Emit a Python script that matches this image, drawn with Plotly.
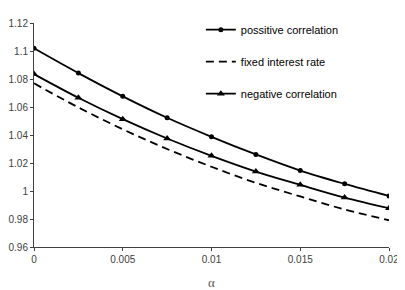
import plotly.graph_objects as go

alpha = [0, 0.0025, 0.005, 0.0075, 0.01, 0.0125, 0.015, 0.0175, 0.02]
positive = [1.1019, 1.0842, 1.0676, 1.0523, 1.0387, 1.0261, 1.0146, 1.0051, 0.9965]
fixed = [1.0769, 1.0597, 1.0441, 1.0300, 1.0173, 1.0058, 0.9961, 0.9868, 0.9791]
negative = [1.0835, 1.0666, 1.0513, 1.0375, 1.0251, 1.0139, 1.0044, 0.9953, 0.9877]

x_ticks = [0, 0.005, 0.01, 0.015, 0.02]
x_tick_labels = ["0", "0.005", "0.01", "0.015", "0.02"]
y_ticks = [0.96, 0.98, 1.0, 1.02, 1.04, 1.06, 1.08, 1.1, 1.12]
y_tick_labels = ["0.96", "0.98", "1", "1.02", "1.04", "1.06", "1.08", "1.1", "1.12"]

fig = go.Figure()
fig.add_trace(go.Scatter(x=alpha, y=positive, name="possitive correlation", mode="lines+markers",
                         line=dict(color="black", width=1.8, shape="spline"),
                         marker=dict(symbol="circle", size=5, color="black"), legendgroup="a"))
fig.add_trace(go.Scatter(x=alpha, y=fixed, name="fixed interest rate", mode="lines",
                         line=dict(color="black", width=1.8, dash="8px,5px", shape="spline"), legendgroup="b"))
fig.add_trace(go.Scatter(x=alpha, y=negative, name="negative correlation", mode="lines+markers",
                         line=dict(color="black", width=1.8, shape="spline"),
                         marker=dict(symbol="triangle-up", size=7, color="black"), legendgroup="c"))

fig.update_layout(
    width=397, height=282,
    margin=dict(l=26, r=16, t=15, b=43, autoexpand=False),
    paper_bgcolor="white", plot_bgcolor="white",
    font=dict(family="Liberation Sans, Arial, sans-serif", size=10, color="#404040"),
    showlegend=True,
    legend=dict(x=0.47, y=1.035, xanchor="left", yanchor="top", tracegroupgap=13,
                font=dict(size=11, color="black"), bgcolor="rgba(0,0,0,0)", itemwidth=30),
)
fig.update_xaxes(range=[0, 0.02], tickvals=x_ticks, ticktext=x_tick_labels,
                 showline=True, linecolor="#404040", linewidth=1, ticks="outside", ticklen=3,
                 tickcolor="#404040", showgrid=False, zeroline=False, ticklabeloverflow="allow",
                 title=dict(text="α", font=dict(family="Liberation Serif, serif", size=13, color="#595959"), standoff=15))
fig.update_yaxes(range=[0.96, 1.12], tickvals=y_ticks, ticktext=y_tick_labels,
                 showline=True, linecolor="#404040", linewidth=1, ticks="outside", ticklen=3,
                 tickcolor="#404040", showgrid=False, zeroline=False)

fig.write_html("out.html")
